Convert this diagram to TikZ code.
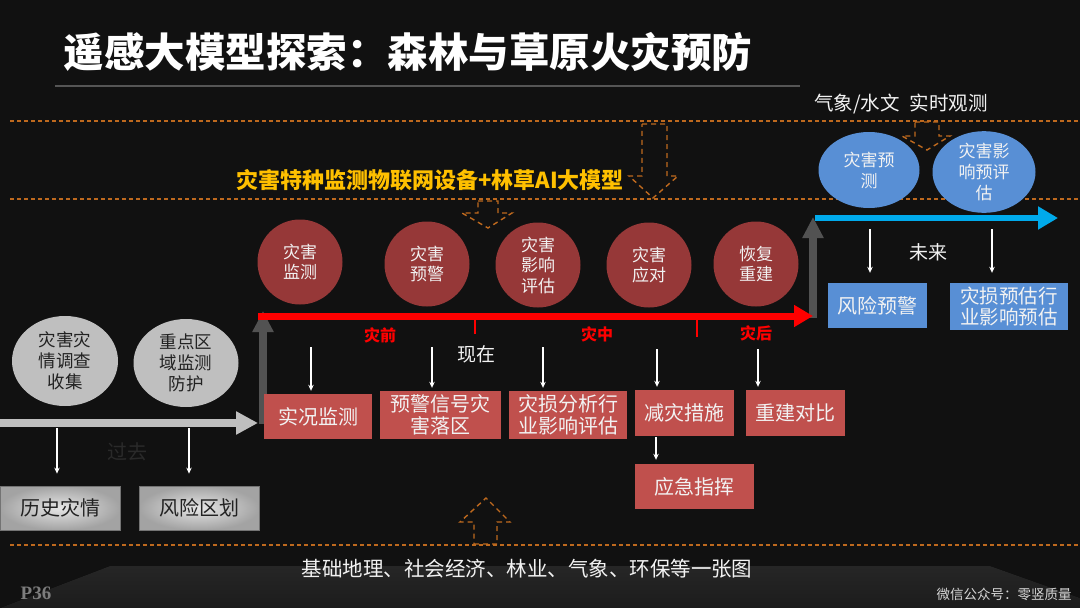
\documentclass[tikz,border=0pt]{standalone}
\usepackage{fontspec}
\setmainfont{Noto Sans CJK SC}
\newfontfamily\pfont{Liberation Serif}
\usetikzlibrary{arrows.meta,shapes.geometric}
\definecolor{bgC}{RGB}{17,17,17}
\definecolor{circR}{RGB}{150,56,56}
\definecolor{boxR}{RGB}{192,80,77}
\definecolor{blueC}{RGB}{88,143,213}
\definecolor{cyanC}{RGB}{0,170,235}
\definecolor{grayL}{RGB}{191,191,191}
\definecolor{grayD}{RGB}{82,82,82}
\definecolor{dashC}{RGB}{190,105,30}
\definecolor{goldC}{RGB}{255,192,0}
\definecolor{txtW}{RGB}{242,242,242}
\definecolor{txtD}{RGB}{34,34,34}
\tikzset{
  fs/.style={font=\fontsize{#1}{24}\selectfont},
  redcirc/.style={circle, fill=circR, minimum size=85pt, inner sep=0pt, text=txtW, align=center, font=\fontsize{17}{20.5}\selectfont},
  blueell/.style={ellipse, fill=blueC, minimum width=101pt, minimum height=76pt, inner sep=0pt, text=txtW, align=center, font=\fontsize{17}{21}\selectfont},
  grayell/.style={ellipse, fill=grayL, minimum width=106pt, minimum height=90pt, inner sep=0pt, text=txtD, align=center, font=\fontsize{17.5}{21}\selectfont},
  redbox/.style={rectangle, fill=boxR, inner sep=0pt, text=txtW, align=center, font=\fontsize{20}{22}\selectfont},
  bluebox/.style={rectangle, fill=blueC, inner sep=0pt, text=txtW, align=center, font=\fontsize{20}{21.5}\selectfont},
  graybox/.style={rectangle, inner color=white!90!black, outer color=white!64!black, draw=white!45!black, line width=0.8pt, inner sep=0pt, text=txtD, font=\fontsize{20}{22}\selectfont, minimum width=120pt, minimum height=44pt},
  warrow/.style={draw=white, line width=1.3pt, -{Stealth[length=6pt,width=5.5pt]}},
  hollow/.style={draw=dashC, dash pattern=on 5pt off 4pt, line width=1.4pt},
  hline/.style={draw=dashC, dash pattern=on 4pt off 3pt, line width=1.3pt},
  redlbl/.style={text=red, font=\fontsize{16}{18}\selectfont\bfseries},
  tick/.style={draw=red, line width=2pt},
}
\begin{document}
\begin{tikzpicture}[x=1pt,y=-1pt]
\useasboundingbox (0,0) rectangle (1080,608);
\fill[bgC] (0,0) rectangle (1080,608);
% floor
\fill[top color={rgb,255:red,38;green,38;blue,38}, bottom color={rgb,255:red,28;green,28;blue,28}]
  (0,608) -- (110,566) -- (990,566) -- (1080,598) -- (1080,608) -- cycle;
% title
\node[anchor=west, text=white, font=\fontsize{40.5}{44}\selectfont\bfseries] (title) at (60,52) {遥感大模型探索：森林与草原火灾预防};
\draw[draw={rgb,255:red,85;green,85;blue,85}, line width=1.6pt] (55,86) -- (800,86);
% dashed horizontal lines
\draw[hline] (10,121) -- (1080,121);
\draw[hline] (10,199) -- (1080,199);
\draw[hline] (10,545) -- (1080,545);
% hollow dashed arrows
\draw[hollow] (642,124) -- (667,124) -- (667,176) -- (678,176) -- (653,198) -- (629,176) -- (642,176) -- cycle;
\draw[hollow] (478,201) -- (498,201) -- (498,213) -- (512,213) -- (488,228) -- (462,213) -- (478,213) -- cycle;
\draw[hollow] (915,122) -- (939,122) -- (939,136) -- (950,136) -- (927,150) -- (902,136) -- (915,136) -- cycle;
\draw[hollow] (474,544) -- (497,544) -- (497,522) -- (510,522) -- (486,498) -- (460,522) -- (474,522) -- cycle;
% top texts
\node[text=txtW, fs=19.5] (obs) at (901,104) {气象/水文\hspace{10pt}实时观测};
\node[text=goldC, font=\fontsize{22}{24}\selectfont\bfseries] (model) at (430,180) {灾害特种监测物联网设备+林草AI大模型};
% blue ellipses
\node[blueell] (pred) at (869,170) {灾害预\\测};
\node[blueell, minimum width=103pt, minimum height=75pt] (impact) at (984,172) {灾害影\\响预评\\估};
% arrows (timelines)
\coordinate (gs) at (0,423);
\coordinate (ge) at (258,423);
\coordinate (vls) at (263,424);
\coordinate (vle) at (263,311);
\coordinate (rs) at (258,316);
\coordinate (re) at (813,316);
\coordinate (vrs) at (813,318);
\coordinate (vre) at (813,217);
\coordinate (bs) at (815,218);
\coordinate (be) at (1058,218);
\draw[grayL, line width=8pt, -{Triangle[length=22pt,width=22pt]}] (gs) -- (ge);
\draw[grayD, line width=8pt, -{Triangle[length=21pt,width=20pt]}] (vls) -- (vle);
\draw[grayD, line width=8pt, -{Triangle[length=21pt,width=20pt]}] (vrs) -- (vre);
\draw[red, line width=7pt, -{Triangle[length=19pt,width=21pt]}] (rs) -- (re);
\draw[cyanC, line width=6pt, -{Triangle[length=20pt,width=22pt]}] (bs) -- (be);
% ticks on red line
\coordinate (t1a) at (475,316); \coordinate (t1b) at (475,334);
\coordinate (t2a) at (697,316); \coordinate (t2b) at (697,337);
\draw[tick] (t1a) -- (t1b);
\draw[tick] (t2a) -- (t2b);
% red circles
\node[redcirc] (c1) at (300,262) {灾害\\监测};
\node[redcirc] (c2) at (427,264) {灾害\\预警};
\node[redcirc] (c3) at (538,265) {灾害\\影响\\评估};
\node[redcirc] (c4) at (649,265) {灾害\\应对};
\node[redcirc] (c5) at (756,264) {恢复\\重建};
% phase labels
\node[redlbl] (pre) at (380,335) {灾前};
\node[redlbl] (mid) at (597,334) {灾中};
\node[redlbl] (post) at (756,333) {灾后};
\node[text=txtW, fs=19] (now) at (476,354) {现在};
\node[text=txtW, fs=19] (future) at (928,252) {未来};
\node[text={rgb,255:red,42;green,42;blue,42}, fs=20] (past) at (127,452) {过去};
% gray ellipses
\node[grayell] (g1) at (65,361) {灾害灾\\情调查\\收集};
\node[grayell, minimum width=105pt, minimum height=88pt] (g2) at (186,363) {重点区\\域监测\\防护};
% gray boxes
\node[graybox] (hist) at (60,508) {历史灾情};
\node[graybox] (risk) at (199,508) {风险区划};
% red boxes
\node[redbox, minimum width=108pt, minimum height=45pt] (b1) at (318,416.5) {实况监测};
\node[redbox, minimum width=121pt, minimum height=48pt] (b2) at (440.5,415) {预警信号灾\\害落区};
\node[redbox, minimum width=118pt, minimum height=48pt] (b3) at (568,415) {灾损分析行\\业影响评估};
\node[redbox, minimum width=99pt, minimum height=46pt] (b4) at (684.5,413) {减灾措施};
\node[redbox, minimum width=99pt, minimum height=46pt] (b5) at (795.5,413) {重建对比};
\node[redbox, minimum width=119pt, minimum height=45pt] (b6) at (694.5,486.5) {应急指挥};
% blue boxes
\node[bluebox, minimum width=99pt, minimum height=45pt] (f1) at (877.5,305.5) {风险预警};
\node[bluebox, minimum width=118pt, minimum height=47pt, font=\fontsize{19.5}{21.5}\selectfont] (f2) at (1009,306.5) {灾损预估行\\业影响预估};
% white arrows
\coordinate (wa1) at (57,428);  \draw[warrow, shorten >=12pt] (wa1) -- (wa1 |- hist.north);
\coordinate (wa2) at (189,428); \draw[warrow, shorten >=12pt] (wa2) -- (wa2 |- risk.north);
\coordinate (wr1) at (311,347); \draw[warrow, shorten >=3pt] (wr1) -- (wr1 |- b1.north);
\coordinate (wr2) at (432,347); \draw[warrow, shorten >=3pt] (wr2) -- (wr2 |- b2.north);
\coordinate (wr3) at (543,347); \draw[warrow, shorten >=3pt] (wr3) -- (wr3 |- b3.north);
\coordinate (wr4) at (657,349); \draw[warrow, shorten >=3pt] (wr4) -- (wr4 |- b4.north);
\coordinate (wr5) at (758,349); \draw[warrow, shorten >=3pt] (wr5) -- (wr5 |- b5.north);
\coordinate (wr6) at (656,437); \draw[warrow, shorten >=4pt] (wr6) -- (wr6 |- b6.north);
\coordinate (wb1) at (870,229); \draw[warrow, shorten >=10pt] (wb1) -- (wb1 |- f1.north);
\coordinate (wb2) at (992,229); \draw[warrow, shorten >=10pt] (wb2) -- (wb2 |- f2.north);
% bottom texts
\node[text=txtW, font=\fontsize{20.5}{24}\selectfont] (base) at (527,569) {基础地理、社会经济、林业、气象、环保等一张图};
\node[text={rgb,255:red,125;green,125;blue,125}, font=\pfont\fontsize{19}{20}\selectfont\bfseries] (page) at (36,593) {P36};
\node[text={rgb,255:red,215;green,215;blue,215}, font=\fontsize{13.5}{15}\selectfont] (wx) at (1004,594) {微信公众号：零竖质量};
\end{tikzpicture}
\end{document}
